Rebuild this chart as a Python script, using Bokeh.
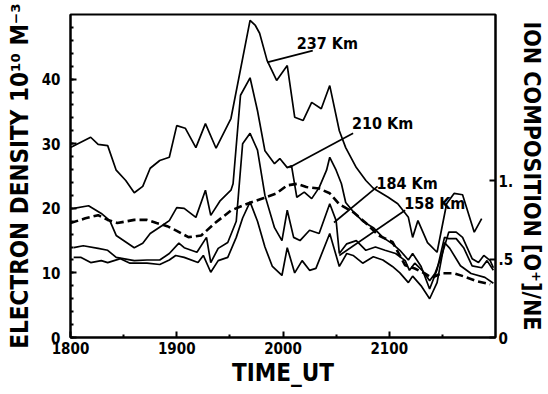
from bokeh.plotting import figure
from bokeh.models import Range1d, LinearAxis, FixedTicker
from bokeh.core.properties import value
from bokeh.embed import file_html
from bokeh.resources import INLINE

FONT = "DejaVu Sans Condensed"

# ---- data (time in HHMM-like linear units, density in 1e10 m^-3) ----
t_237 = [1800, 1819, 1826, 1835, 1843, 1852, 1860, 1868, 1875, 1884, 1893, 1900, 1908, 1918,
         1927, 1937, 1951, 1969, 1974, 1978, 1985, 1994, 2004, 2011, 2019, 2027, 2036, 2044,
         2053, 2059, 2069, 2078, 2085, 2099, 2108, 2118, 2122, 2127, 2136, 2145, 2154, 2161,
         2169, 2180, 2187]
v_237 = [29.4, 31.0, 29.9, 29.7, 25.9, 24.3, 22.4, 23.4, 26.2, 27.4, 27.9, 32.8, 32.4, 29.4,
         33.1, 29.3, 33.9, 49.1, 48.3, 47.1, 42.9, 39.8, 42.1, 34.1, 33.6, 36.4, 35.4, 39.0,
         32.0, 29.4, 26.3, 24.3, 23.1, 21.7, 20.7, 18.6, 15.5, 18.1, 14.7, 13.2, 20.7, 22.3,
         22.1, 16.3, 18.4]

t_210 = [1803, 1817, 1829, 1837, 1843, 1860, 1868, 1875, 1886, 1893, 1900, 1907, 1918, 1927,
         1932, 1941, 1951, 1953, 1960, 1969, 1976, 1983, 1992, 1997, 2004, 2008, 2013, 2020,
         2027, 2034, 2041, 2044, 2050, 2055, 2059, 2066, 2075, 2085, 2094, 2103, 2110, 2118,
         2122, 2130, 2138, 2145, 2152, 2156, 2163, 2170, 2178, 2187, 2192, 2198]
v_210 = [20.0, 20.4, 19.2, 18.1, 15.8, 13.9, 14.6, 16.1, 17.3, 18.1, 20.1, 20.0, 18.6, 22.8,
         18.9, 21.2, 22.8, 23.8, 37.5, 40.2, 35.1, 28.9, 26.9, 27.7, 26.3, 26.6, 21.7, 22.5,
         21.5, 23.2, 25.9, 27.9, 25.9, 23.8, 20.9, 19.5, 18.0, 17.0, 15.5, 14.5, 13.5, 12.0,
         13.0, 11.0, 7.5, 10.5, 15.5, 15.3, 15.3, 13.9, 11.1, 10.8, 11.9, 10.4]

t_184 = [1803, 1812, 1826, 1835, 1843, 1860, 1872, 1884, 1893, 1902, 1907, 1919, 1928, 1932,
         1939, 1948, 1956, 1962, 1969, 1976, 1983, 1992, 1999, 2004, 2010, 2016, 2025, 2034,
         2044, 2050, 2053, 2060, 2069, 2078, 2087, 2096, 2106, 2115, 2119, 2124, 2131, 2138,
         2143, 2149, 2156, 2163, 2169, 2178, 2184, 2189, 2195, 2198]
v_184 = [13.9, 14.2, 13.8, 13.5, 12.4, 11.9, 12.0, 12.0, 13.0, 14.6, 13.9, 13.2, 15.5, 11.6,
         13.8, 14.7, 18.0, 30.0, 31.6, 29.0, 22.0, 17.0, 15.0, 19.7, 15.5, 15.0, 16.6, 16.1,
         20.7, 18.1, 13.0, 14.5, 15.0, 13.5, 14.0, 13.5, 13.0, 11.9, 10.4, 11.5, 10.4, 8.8,
         9.9, 12.5, 16.3, 16.3, 15.5, 12.2, 11.6, 12.7, 11.9, 10.8]

t_158 = [1803, 1810, 1819, 1829, 1835, 1847, 1856, 1872, 1884, 1893, 1899, 1907, 1920, 1925,
         1932, 1939, 1948, 1956, 1962, 1969, 1976, 1983, 1990, 1999, 2004, 2011, 2018, 2025,
         2031, 2044, 2053, 2060, 2066, 2075, 2085, 2094, 2103, 2110, 2118, 2122, 2130, 2138,
         2145, 2152, 2157, 2167, 2177, 2190, 2198]
v_158 = [12.4, 12.4, 11.6, 11.9, 11.6, 12.2, 11.5, 11.5, 11.3, 12.0, 12.7, 12.4, 11.6, 12.7,
         10.1, 11.9, 12.4, 15.5, 18.5, 21.0, 18.0, 14.0, 11.0, 9.6, 13.9, 10.0, 11.9, 10.4,
         10.7, 16.1, 11.0, 13.0, 12.7, 11.5, 12.5, 12.0, 11.0, 10.0, 8.5, 9.5, 8.0, 6.0,
         8.5, 14.7, 13.8, 11.1, 9.9, 9.3, 8.4]

# ion composition [O+]/Ne (right axis)
t_ion = [1800, 1814, 1826, 1835, 1844, 1860, 1872, 1881, 1891, 1900, 1911, 1923, 1936, 1951,
         1969, 1982, 1994, 2004, 2013, 2022, 2034, 2044, 2053, 2066, 2078, 2090, 2103, 2115,
         2124, 2133, 2140, 2149, 2161, 2170, 2182, 2195]
r_ion = [0.73, 0.76, 0.78, 0.75, 0.73, 0.75, 0.75, 0.73, 0.71, 0.68, 0.64, 0.65, 0.73, 0.81,
         0.86, 0.89, 0.92, 0.97, 0.98, 0.96, 0.95, 0.92, 0.85, 0.80, 0.73, 0.65, 0.61, 0.46,
         0.44, 0.41, 0.38, 0.41, 0.41, 0.39, 0.36, 0.34]

# curve labels: text, text anchor (t, v), leader from (t, v) to (t, v)
lab_text = ["237 Km", "210 Km", "184 Km", "158 Km"]
lab_t = [2013, 2065, 2088, 2114]
lab_v = [44.1, 31.6, 22.4, 19.3]
lead_t0 = [2028, 2066, 2089, 2115]
lead_v0 = [44.4, 31.6, 23.4, 19.7]
lead_t1 = [1985, 2006, 2048, 2053]
lead_v1 = [42.6, 26.3, 17.8, 12.7]

x_ticks = [1800, 1900, 2000, 2100]
x_minor = [1850, 1950, 2050, 2150]
y_ticks = [0, 10, 20, 30, 40]
y_minor = list(range(0, 50, 2))
r_ticks = [0, 0.5, 1.0]
r_tick_labels = {0: "0", 0.5: ".5", 1: "1."}

p = figure(width=548, height=394, output_backend="svg", toolbar_location=None,
           x_range=Range1d(1800, 2200), y_range=Range1d(0, 50),
           min_border_left=70, min_border_right=46, min_border_top=14, min_border_bottom=57)
p.extra_y_ranges = {"ion": Range1d(0, 2.06)}
p.grid.visible = False
p.background_fill_color = "white"
p.border_fill_color = "white"
p.outline_line_color = "black"
p.outline_line_width = 2

def style_axis(ax, size="15px"):
    ax.axis_line_color = "black"
    ax.axis_line_width = 2
    ax.major_tick_in = 6
    ax.major_tick_out = 0
    ax.minor_tick_in = 3
    ax.minor_tick_out = 0
    ax.major_tick_line_width = 2
    ax.minor_tick_line_width = 2
    ax.major_label_text_font = FONT
    ax.major_label_text_font_style = "bold"
    ax.major_label_text_font_size = size
    ax.major_label_text_color = "black"
    ax.axis_label_text_font = FONT
    ax.axis_label_text_font_style = "bold"
    ax.axis_label_text_color = "black"

xa = p.xaxis[0]
xa.ticker = FixedTicker(ticks=x_ticks, minor_ticks=x_minor)
xa.axis_label = "TIME_UT"
style_axis(xa)
xa.axis_label_text_font_size = "24px"
xa.major_label_standoff = 4
xa.axis_label_standoff = 2

ya = p.yaxis[0]
ya.ticker = FixedTicker(ticks=y_ticks, minor_ticks=y_minor)
ya.axis_label = "ELECTRON DENSITY 10¹⁰ M⁻³"
style_axis(ya)
ya.axis_label_text_font_size = "24px"
ya.major_label_standoff = 10
ya.axis_label_standoff = 5

ra = LinearAxis(y_range_name="ion", ticker=FixedTicker(ticks=r_ticks),
                axis_label="ION COMPOSITION [O⁺]/NE")
style_axis(ra)
ra.major_label_overrides = r_tick_labels
ra.axis_label_text_font_size = "23px"
ra.major_label_standoff = 3
ra.axis_label_standoff = 3
p.add_layout(ra, "right")

for t, v in [(t_237, v_237), (t_210, v_210), (t_184, v_184), (t_158, v_158)]:
    p.line(t, v, line_color="black", line_width=1.7)

p.line(t_ion, r_ion, y_range_name="ion", line_color="black", line_width=2.6,
       line_dash="8 4")

p.segment(lead_t0, lead_v0, lead_t1, lead_v1, line_color="black", line_width=1.7)
p.text(lab_t, lab_v, text=lab_text, text_font=value(FONT), text_font_style="bold",
       text_font_size="16px", text_color="black", text_baseline="bottom", text_align="left")

open("out.html", "w").write(file_html(p, INLINE))
